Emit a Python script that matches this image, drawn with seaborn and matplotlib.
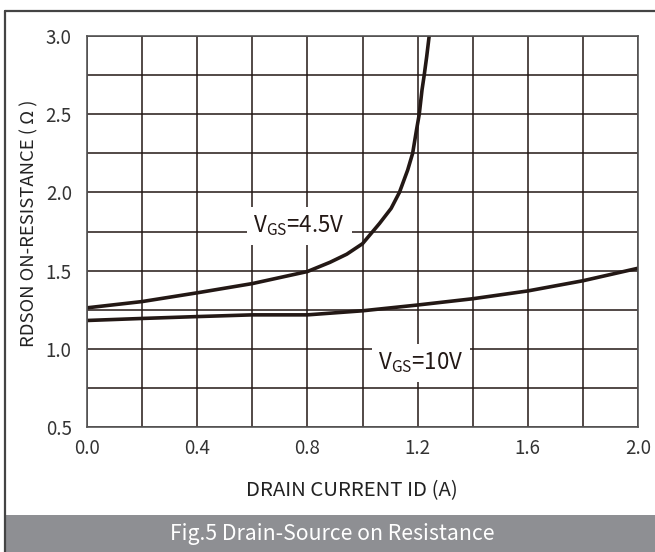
import numpy as np
import pandas as pd
import matplotlib
matplotlib.use("Agg")
import matplotlib.pyplot as plt
import seaborn as sns
from matplotlib.patches import Rectangle
from matplotlib.lines import Line2D

# data
id_45 = [0.0, 0.2, 0.4, 0.6, 0.8, 0.882, 0.943, 1.0, 1.062, 1.104, 1.134,
         1.164, 1.182, 1.196, 1.206, 1.216, 1.224, 1.233, 1.242]
rds_45 = [1.262, 1.302, 1.358, 1.417, 1.494, 1.553, 1.605, 1.672, 1.802, 1.898, 2.0,
          2.143, 2.25, 2.399, 2.5, 2.655, 2.75, 2.868, 3.0]

id_10 = [0.0, 0.2, 0.4, 0.6, 0.8, 1.0, 1.2, 1.4, 1.6, 1.8, 2.0]
rds_10 = [1.181, 1.194, 1.206, 1.217, 1.217, 1.243, 1.28, 1.32, 1.37, 1.435, 1.515]

x_ticks = [0.0, 0.4, 0.8, 1.2, 1.6, 2.0]
y_ticks = [0.5, 1.0, 1.5, 2.0, 2.5, 3.0]

df = pd.concat([
    pd.DataFrame({"id": id_45, "rds": rds_45, "vgs": "4.5V"}),
    pd.DataFrame({"id": id_10, "rds": rds_10, "vgs": "10V"}),
])

sns.set_theme(style="white")
plt.rcParams['font.family'] = ['Noto Sans CJK SC', 'DejaVu Sans']
plt.rcParams['mathtext.default'] = 'regular'

ink = "#231815"
fig = plt.figure(figsize=(6.55, 5.52), dpi=100)
ax = fig.add_axes([87 / 655, 1 - 427 / 552, 551 / 655, 391 / 552])

sns.lineplot(data=df, x="id", y="rds", units="vgs", estimator=None, sort=False,
             color=ink, linewidth=2.6, ax=ax, legend=False)

ax.set_xlim(0, 2.0)
ax.set_ylim(0.5, 3.0)
ax.set_xticks(x_ticks)
ax.set_xticklabels([f"{v:.1f}" for v in x_ticks])
ax.set_yticks(y_ticks)
ax.set_yticklabels([f"{v:.1f}" for v in y_ticks])
ax.set_xticks(np.arange(0, 2.01, 0.2), minor=True)
ax.set_yticks(np.arange(0.5, 3.01, 0.25), minor=True)
ax.grid(which="both", color=ink, linewidth=1.1)
ax.set_axisbelow(True)
ax.tick_params(which="both", length=0, labelsize=13.5, labelcolor="#333333")
ax.tick_params(axis="y", pad=11)
ax.tick_params(axis="x", pad=8)
for s in ax.spines.values():
    s.set_color("#555555")
    s.set_linewidth(1.2)

ax.set_xlabel("DRAIN CURRENT ID (A)", fontsize=14.7, color="#222222")
ax.xaxis.set_label_coords(0.481, -0.136)
ax.set_ylabel("RDSON ON-RESISTANCE ( Ω )", fontsize=13.3, color="#222222")
ax.yaxis.set_label_coords(-0.088, 0.522)

box = dict(boxstyle="square,pad=0.3", facecolor="white", edgecolor="none")
ax.text(0.770, 1.785, r"V$_{GS}$=4.5V", fontsize=16, color=ink,
        ha="center", va="center", bbox=box, zorder=3)
ax.text(1.212, 0.909, r"V$_{GS}$=10V", fontsize=16, color=ink,
        ha="center", va="center", bbox=box, zorder=3)

# frame and caption band
fig.patches.append(Rectangle((4 / 655, 0), 1, 37 / 552, transform=fig.transFigure,
                             facecolor="#8e8f93", edgecolor="none", zorder=0))
fig.lines.append(Line2D([4.5 / 655, 4.5 / 655], [0, 1 - 10.5 / 552],
                        transform=fig.transFigure, color="#444444", linewidth=1.6))
fig.lines.append(Line2D([4.5 / 655, 1], [1 - 10.5 / 552, 1 - 10.5 / 552],
                        transform=fig.transFigure, color="#444444", linewidth=1.6))
fig.text(332 / 655, 1 - 534 / 552, "Fig.5 Drain-Source on Resistance",
         color="white", fontsize=15.3, ha="center", va="center")

fig.savefig("out.png", dpi=100)
